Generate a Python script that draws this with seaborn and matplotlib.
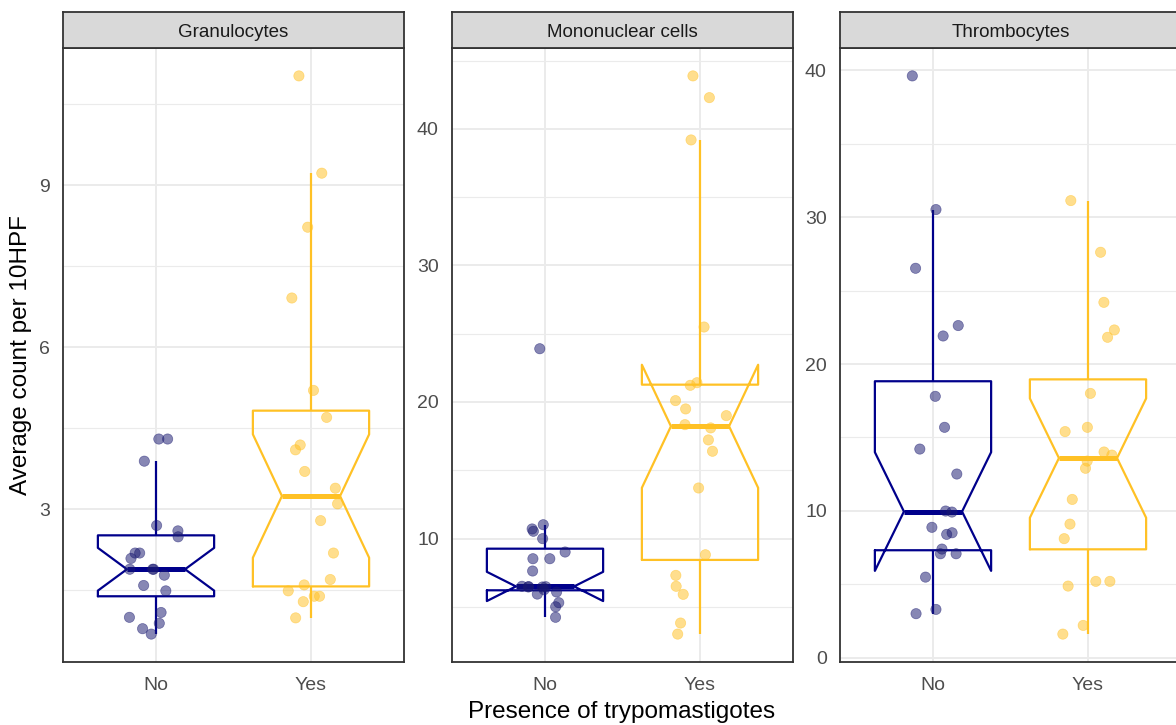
import numpy as np
import pandas as pd
import matplotlib
matplotlib.use("Agg")
import matplotlib.pyplot as plt
from matplotlib.ticker import MultipleLocator
import seaborn as sns

# ---------------- data ----------------
cell_types = ["Granulocytes", "Mononuclear cells", "Thrombocytes"]
groups = ["No", "Yes"]

gran_no = [4.30, 4.30, 3.89, 2.70, 2.60, 2.49, 2.19, 2.19, 2.09, 1.89,
           1.89, 1.89, 1.78, 1.59, 1.49, 1.09, 1.00, 0.89, 0.79, 0.69]
gran_yes = [11.02, 9.22, 8.22, 6.91, 5.20, 4.70, 4.19, 4.10, 3.70, 3.39,
            3.10, 2.79, 2.19, 1.70, 1.60, 1.49, 1.39, 1.39, 1.29, 0.99]
mono_no = [23.90, 11.01, 10.70, 10.53, 9.99, 9.01, 8.52, 8.52, 7.62, 6.45,
           6.48, 6.45, 6.47, 6.50, 6.25, 5.93, 6.08, 5.30, 5.00, 4.23]
mono_yes = [43.88, 42.29, 39.19, 25.49, 21.22, 21.41, 20.10, 19.49, 19.00, 18.34,
            18.10, 17.22, 16.39, 13.70, 8.81, 7.30, 6.50, 5.91, 3.81, 3.00]
thromb_no = [39.62, 30.52, 26.52, 22.62, 21.91, 17.80, 15.69, 14.21, 12.51, 9.92,
             9.99, 8.88, 8.51, 8.40, 7.40, 7.08, 7.08, 5.49, 3.29, 3.00]
thromb_yes = [31.13, 27.61, 24.20, 22.32, 21.82, 18.00, 15.40, 15.69, 13.80, 14.01,
              13.39, 12.90, 10.78, 9.10, 8.11, 5.20, 5.20, 4.88, 2.20, 1.61]

major_steps = [3, 10, 10]

x_title = "Presence of trypomastigotes"
y_title = "Average count per 10HPF"

# ---------------- long table ----------------
series = {
    ("Granulocytes", "No"): gran_no, ("Granulocytes", "Yes"): gran_yes,
    ("Mononuclear cells", "No"): mono_no, ("Mononuclear cells", "Yes"): mono_yes,
    ("Thrombocytes", "No"): thromb_no, ("Thrombocytes", "Yes"): thromb_yes,
}
rows = []
for (ct, g), vals in series.items():
    for v in vals:
        rows.append({"cell": ct, "presence": g, "count": v})
df = pd.DataFrame(rows)

# ---------------- style ----------------
sns.set_style("white")
plt.rcParams["font.family"] = ["Liberation Sans", "DejaVu Sans"]

box_pal = {"No": "#00008B", "Yes": "#FFC125"}
pt_pal = {"No": "#191970", "Yes": "#FFC125"}

W, H = 1176, 725
fig = plt.figure(figsize=(W / 100, H / 100), dpi=100)

panel_lefts = [63, 452, 840]
panel_w = 341
panel_top, panel_bot = 48, 662
strip_top = 12

np.random.seed(3)
for i, ct in enumerate(cell_types):
    left = panel_lefts[i] / W
    ax = fig.add_axes([left, (H - panel_bot) / H, panel_w / W, (panel_bot - panel_top) / H])
    sub = df[df["cell"] == ct]

    sns.boxplot(data=sub, x="presence", y="count", hue="presence",
                order=groups, hue_order=groups, palette=box_pal,
                fill=False, notch=True, showcaps=False, showfliers=False,
                width=0.75, linewidth=1.6, saturation=1,
                medianprops={"linewidth": 3.6}, legend=False, ax=ax)
    sns.stripplot(data=sub, x="presence", y="count", hue="presence",
                  order=groups, hue_order=groups, palette=pt_pal,
                  jitter=0.18, size=7.4, alpha=0.52, linewidth=0.5,
                  edgecolor="face", legend=False, zorder=3, ax=ax)

    vmin, vmax = sub["count"].min(), sub["count"].max()
    pad = 0.05 * (vmax - vmin)
    ax.set_ylim(vmin - pad, vmax + pad)
    ax.set_xlim(-0.6, 1.6)
    step = major_steps[i]
    ax.yaxis.set_major_locator(MultipleLocator(step))
    ax.yaxis.set_minor_locator(MultipleLocator(step / 2))
    ax.set_axisbelow(True)
    ax.grid(True, which="major", color="#EBEBEB", linewidth=1.4)
    ax.grid(True, which="minor", axis="y", color="#EBEBEB", linewidth=0.8)
    ax.set_xlabel("")
    ax.set_ylabel("")
    ax.tick_params(axis="both", which="major", length=4, width=1.1,
                   color="#333333", labelcolor="#4D4D4D", labelsize=14)
    ax.tick_params(axis="x", which="major", pad=6.5)
    ax.tick_params(axis="y", which="major", pad=5.5)
    ax.tick_params(axis="both", which="minor", length=0)
    for s in ax.spines.values():
        s.set_color("#333333")
        s.set_linewidth(1.3)

    sax = fig.add_axes([left, (H - panel_top) / H, panel_w / W, (panel_top - strip_top) / H])
    sax.set_facecolor("#D9D9D9")
    sax.set_xticks([])
    sax.set_yticks([])
    for s in sax.spines.values():
        s.set_color("#333333")
        s.set_linewidth(1.3)
    sax.text(0.5, 0.42, ct, ha="center", va="center", fontsize=13.5,
             color="#1A1A1A", transform=sax.transAxes)

fig.text(622 / W, (H - 718) / H, x_title, ha="center", va="baseline",
         fontsize=17.5, color="black")
fig.text(21 / W, (H - 355) / H, y_title, ha="center", va="center",
         rotation=90, fontsize=17.5, color="black")

fig.savefig("out.png", dpi=100)
